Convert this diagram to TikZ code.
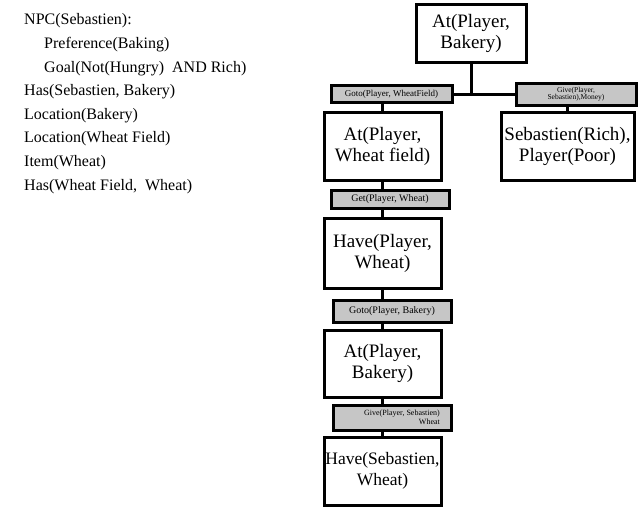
\documentclass[tikz,border=0pt]{standalone}
\usepackage{fontspec}
\setmainfont{Liberation Serif}
\begin{document}
\begin{tikzpicture}[x=1pt,y=-1pt,
 box/.style={draw,line width=3pt,fill=white,align=center,font=\fontsize{19}{21}\selectfont,inner sep=0pt},
 lab/.style={draw,line width=3pt,fill=gray!45,align=center,inner sep=0pt},
 conn/.style={line width=3pt},
 txt/.style={anchor=west,font=\fontsize{16}{18}\selectfont,inner sep=0pt}]
\useasboundingbox (0,0) rectangle (640,514);
\node[box,minimum width=110,minimum height=58] (top) at (471,33) {At(Player,\\Bakery)};
\node[lab,minimum width=121,minimum height=17,font=\fontsize{9}{10}\selectfont] (l1) at (391.5,94) {Goto(Player, WheatField)};
\node[lab,minimum width=120,minimum height=22,font=\fontsize{7.5}{7.5}\selectfont] (l2) at (576,94) {Give(Player,\\Sebastien),Money)};
\node[box,minimum width=117,minimum height=68] (b1) at (382.5,146) {At(Player,\\Wheat field)};
\node[box,minimum width=133,minimum height=68] (b2) at (567.5,146) {Sebastien(Rich),\\Player(Poor)};
\node[lab,minimum width=118,minimum height=18,font=\fontsize{10}{11}\selectfont] (l3) at (390,199) {Get(Player, Wheat)};
\node[box,minimum width=117,minimum height=70] (b3) at (382.5,253) {Have(Player,\\Wheat)};
\node[lab,minimum width=118,minimum height=22,font=\fontsize{10}{11}\selectfont] (l4) at (392,311) {Goto(Player, Bakery)};
\node[box,minimum width=117,minimum height=67] (b4) at (382.5,363.5) {At(Player,\\Bakery)};
\node[lab,minimum width=118,minimum height=25,font=\fontsize{8}{8.5}\selectfont,align=right] (l5) at (392,417.5) {\hspace*{20pt}Give(Player, Sebastien)\\Wheat};
\node[box,minimum width=117,minimum height=68,font=\fontsize{17.5}{21}\selectfont] (b5) at (382.5,471) {Have(Sebastien,\\Wheat)};
\coordinate (j) at (top.south |- l1.east);
\draw[conn] (top.south) -- (j);
\draw[conn] (l1.east) -- (l2.west);
\draw[conn] (l1.south -| b1.north) -- (b1.north);
\draw[conn] (l2.south -| b2.north) -- (b2.north);
\draw[conn] (b1.south) -- (b1.south |- l3.north);
\draw[conn] (l3.south -| b3.north) -- (b3.north);
\draw[conn] (b3.south) -- (b3.south |- l4.north);
\draw[conn] (l4.south -| b4.north) -- (b4.north);
\draw[conn] (b4.south) -- (b4.south |- l5.north);
\draw[conn] (l5.south -| b5.north) -- (b5.north);
\node[txt] (t1) at (24,21) {NPC(Sebastien):};
\node[txt] (t2) at (44,45) {Preference(Baking)};
\node[txt] (t3) at (44,69) {Goal(Not(Hungry)\enspace AND Rich)};
\node[txt] (t4) at (24,92) {Has(Sebastien, Bakery)};
\node[txt] (t5) at (24,116) {Location(Bakery)};
\node[txt] (t6) at (24,139) {Location(Wheat Field)};
\node[txt] (t7) at (24,163) {Item(Wheat)};
\node[txt] (t8) at (24,187) {Has(Wheat Field,\enspace Wheat)};
\end{tikzpicture}
\end{document}
